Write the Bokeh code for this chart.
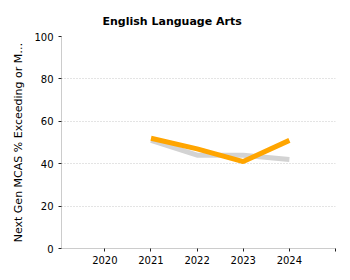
from bokeh.plotting import figure
from bokeh.models import FixedTicker, Range1d
from bokeh.embed import file_html
from bokeh.resources import INLINE

years = [2021, 2022, 2023, 2024]
school = [52, 47, 41, 51]
state = [51, 44, 44, 42]
x_ticks = [2020, 2021, 2022, 2023, 2024, 2025]
y_ticks = [0, 20, 40, 60, 80, 100]

p = figure(width=350, height=280, output_backend="svg", toolbar_location=None,
           x_range=Range1d(2019.06, 2025), y_range=Range1d(0, 100),
           title="English Language Arts",
           min_border_left=61, min_border_right=15, min_border_top=36, min_border_bottom=32)
p.frame_width = 274
p.frame_height = 212
p.outline_line_color = None
p.background_fill_color = "white"
p.border_fill_color = "white"

p.title.align = "left"
p.title.offset = 41
p.title.standoff = 18
p.title.text_line_height = 1.0
p.title.text_font = "DejaVu Sans"
p.title.text_font_size = "11px"
p.title.text_font_style = "bold"
p.title.text_color = "#000000"

p.line(years, state, line_color="#d3d3d3", line_width=5)
p.line(years, school, line_color="#ffa500", line_width=5)

p.xgrid.grid_line_color = None
p.ygrid.grid_line_color = "#c8c8c8"
p.ygrid.grid_line_dash = "1 2"
p.ygrid.grid_line_width = 1

for ax in (p.xaxis[0], p.yaxis[0]):
    ax.axis_line_color = "#cccccc"
    ax.major_tick_line_color = "#222222"
    ax.minor_tick_line_color = None
    ax.major_tick_out = 3
    ax.major_tick_in = 0
    ax.major_label_text_font = "DejaVu Sans"
    ax.major_label_text_font_size = "10px"
    ax.major_label_text_color = "#000000"

p.xaxis[0].ticker = FixedTicker(ticks=x_ticks)
p.xaxis[0].major_label_overrides = {2025: ""}
p.xaxis[0].major_label_standoff = 4
p.yaxis[0].ticker = FixedTicker(ticks=y_ticks)
p.yaxis[0].axis_label = "Next Gen MCAS % Exceeding or M\u2026"
p.yaxis[0].axis_label_text_font = "DejaVu Sans"
p.yaxis[0].axis_label_text_font_size = "11px"
p.yaxis[0].axis_label_text_font_style = "normal"
p.yaxis[0].axis_label_text_color = "#000000"
p.yaxis[0].axis_label_standoff = 6

open("out.html", "w").write(file_html(p, INLINE))
